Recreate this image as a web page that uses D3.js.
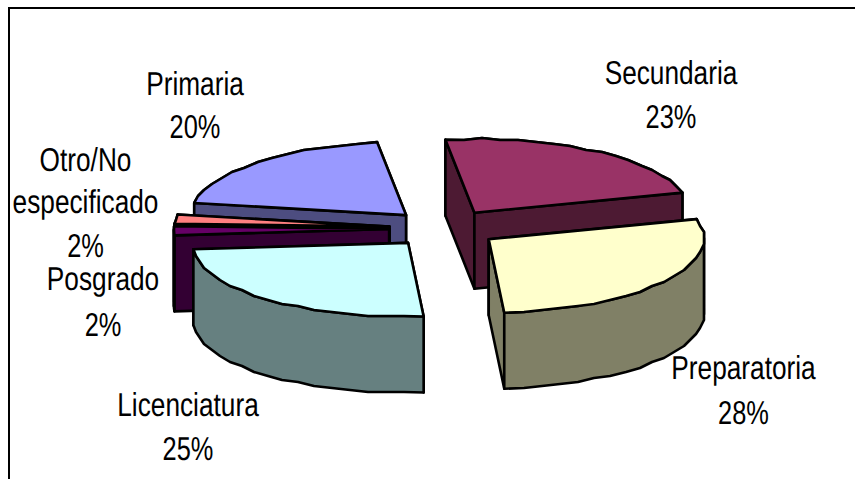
<!DOCTYPE html>
<html>
<head>
<meta charset="utf-8">
<script src="https://cdn.jsdelivr.net/npm/d3@7/dist/d3.min.js"></script>
<style>
  html, body { margin: 0; padding: 0; background: #fff; }
  svg { display: block; }
  text { font-family: "Liberation Sans", Arial, sans-serif; fill: #000; text-rendering: geometricPrecision; }
</style>
</head>
<body>
<svg id="chart" width="855" height="479"></svg>
<script>
// Share of people by highest level of schooling
const categories = ["Secundaria", "Preparatoria", "Licenciatura", "Posgrado", "Otro/No especificado", "Primaria"];
const shares = [23, 28, 25, 2, 2, 20];

const topColors = ["#993366", "#FFFFCC", "#CCFFFF", "#660066", "#FF8080", "#9999FF"];
const sideColors = ["#4D1A33", "#808066", "#668080", "#330033", "#804040", "#4D4D80"];

// Label lines: name lines, then the percentage, with their anchor and baselines.
const labelLayout = {
  "Secundaria": { x: 671, lines: [["Secundaria", 84]], pctY: 128 },
  "Preparatoria": { x: 743.5, lines: [["Preparatoria", 379]], pctY: 424 },
  "Licenciatura": { x: 188, lines: [["Licenciatura", 416]], pctY: 460 },
  "Posgrado": { x: 103, lines: [["Posgrado", 290]], pctY: 336 },
  "Otro/No especificado": { x: 85.5, lines: [["Otro/No", 171], ["especificado", 213]], pctY: 257 },
  "Primaria": { x: 195, lines: [["Primaria", 95]], pctY: 138 }
};

const svg = d3.select("#chart");

// Frame: only the top and left edges fall inside the visible area
svg.append("path")
  .attr("d", "M9,479V8H855")
  .attr("fill", "none").attr("stroke", "#000").attr("stroke-width", 2);

// Tilted pie: an affine projection of the unit circle onto the page.
const center = [444, 228.5];
const axisU = [-29, -73];   // where angle 0 lands
const axisV = [213.3, -11]; // where angle 90deg lands
const explode = 0.255;
const depth = 76;
const grid = 2;             // rim vertices snap to this coarse grid
const rimStep = 0.09;       // angular spacing of rim vertices

const pie = d3.pie().sort(null).value(d => d.share);
const slices = pie(categories.map((name, i) => ({ name, share: shares[i], i })));

const spoke = a => [
  axisU[0] * Math.cos(a) + axisV[0] * Math.sin(a),
  axisU[1] * Math.cos(a) + axisV[1] * Math.sin(a)
];

// Angles where the rim turns back horizontally; the outer wall is split there
const turn = Math.atan2(axisV[0], axisU[0]);
const turnAngles = [turn, turn + Math.PI];

const snap = v => Math.round(v / grid) * grid;
const line = d3.line();
const closed = pts => line(pts) + "Z";

function sliceGeometry(s) {
  const mid = (s.startAngle + s.endAngle) / 2;
  const off = spoke(mid);
  const apex = [center[0] + explode * off[0], center[1] + explode * off[1]];
  const at = a => {
    const v = spoke(a);
    return [apex[0] + v[0], apex[1] + v[1]];
  };
  const steps = Math.max(2, Math.ceil((s.endAngle - s.startAngle) / rimStep));
  const rimAt = (a0, a1, n) => d3.range(n + 1).map(i => {
    const p = at(a0 + (a1 - a0) * i / n);
    return (i === 0 || i === n) ? p : [snap(p[0]), snap(p[1])];
  });
  const rim = rimAt(s.startAngle, s.endAngle, steps);

  // Rim pieces that are each monotone in x, so every wall is a simple polygon
  const cuts = [s.startAngle]
    .concat(turnAngles.filter(a => a > s.startAngle && a < s.endAngle).sort(d3.ascending))
    .concat([s.endAngle]);
  const pieces = d3.pairs(cuts).map(([a0, a1]) =>
    rimAt(a0, a1, Math.max(2, Math.ceil((a1 - a0) / rimStep))));
  return { apex, rim, pieces };
}

const down = p => [p[0], p[1] + depth];
const wall = pts => pts.concat(pts.slice().reverse().map(down));
const meanY = pts => d3.mean(pts, p => p[1]);

// Painter's order: slices further back first
const drawOrder = ["Secundaria", "Primaria", "Otro/No especificado", "Posgrado", "Preparatoria", "Licenciatura"];

const pieGroup = svg.append("g")
  .attr("stroke", "#000").attr("stroke-width", 2.6).attr("stroke-linejoin", "round");

drawOrder.forEach(name => {
  const s = slices.find(d => d.data.name === name);
  const { apex, rim, pieces } = sliceGeometry(s);
  const first = rim[0], last = rim[rim.length - 1];
  const walls = [[apex, first], [apex, last], ...pieces].sort((a, b) => meanY(a) - meanY(b));
  const g = pieGroup.append("g").attr("class", "slice");
  walls.forEach(w => {
    g.append("path").attr("d", closed(wall(w))).attr("fill", sideColors[s.data.i]);
  });
  g.append("path").attr("d", closed([apex].concat(rim))).attr("fill", topColors[s.data.i]);
});

// Data labels: tall, condensed lettering
const nameScale = 0.795;
const pctScale = 0.77;
const fontSize = 33;
const labels = svg.append("g").attr("font-size", fontSize).attr("text-anchor", "middle");

function addLine(x, y, str, sx) {
  labels.append("text")
    .attr("transform", `translate(${x},${y}) scale(${sx},1)`)
    .text(str);
}

categories.forEach((name, i) => {
  const l = labelLayout[name];
  l.lines.forEach(([str, y]) => addLine(l.x, y, str, nameScale));
  addLine(l.x, l.pctY, d3.format("d")(shares[i]) + "%", pctScale);
});
</script>
</body>
</html>
